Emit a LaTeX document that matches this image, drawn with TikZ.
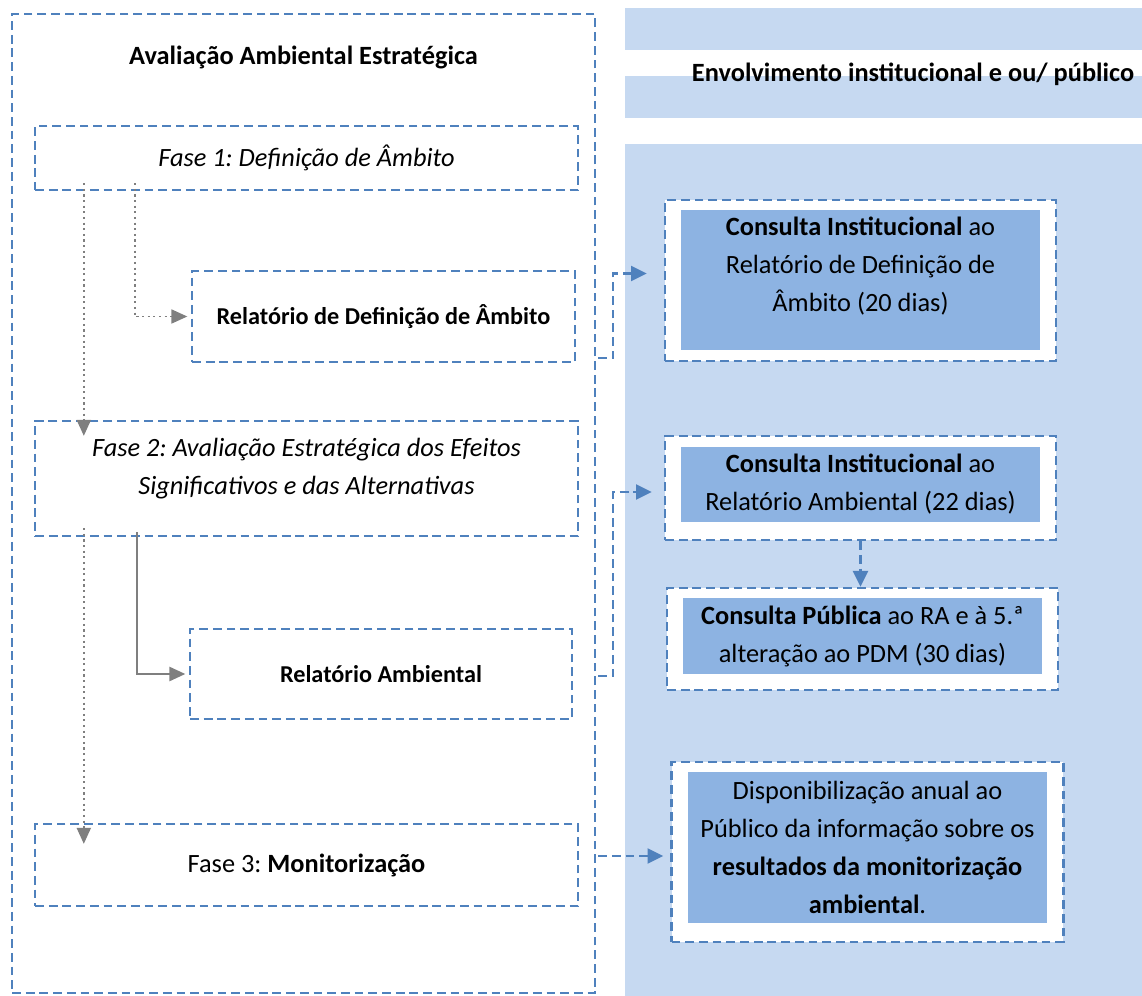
\documentclass[tikz,border=0pt]{standalone}
\usepackage{fontspec}
\setmainfont{Carlito}
\usetikzlibrary{positioning,arrows.meta,calc}
\definecolor{dashblue}{HTML}{4F81BD}
\definecolor{panelblue}{HTML}{C6D9F1}
\definecolor{boxblue}{HTML}{8DB3E2}
\definecolor{arrowgray}{HTML}{7F7F7F}
\newcommand{\boxfont}{\fontsize{15}{21.6}\selectfont}
\newcommand{\smallboxfont}{\fontsize{13.8}{19}\selectfont}
\frenchspacing
\tikzstyle{phase} = [draw=dashblue, line width=1.4pt, dash pattern=on 5pt off 2.8pt, fill=white, align=center]
\tikzstyle{consult} = [phase, minimum width=7.82cm]
\tikzstyle{inbox} = [fill=boxblue, minimum width=7.18cm, align=center]
\tikzstyle{grayarrow} = [arrowgray, line width=1.2pt, -{Triangle[length=9pt,width=8pt]}]
\tikzstyle{bluearrow} = [dashblue, line width=1.4pt, dash pattern=on 5pt off 2.8pt, -{Triangle[length=9pt,width=8.5pt]}]

\begin{document}
\begin{tikzpicture}[x=0.02cm, y=-0.02cm, font=\boxfont]
	\useasboundingbox (0,0) rectangle (1142,996);
	% right column bands
	\fill[panelblue] (625,8) rectangle (1142,50);
	\fill[panelblue] (625,76) rectangle (1142,118);
	\fill[panelblue] (625,144) rectangle (1142,996);
	\node (envtitle) at (913,74) {\textbf{Envolvimento institucional e ou/ público}};
	% left column
	\node[phase, fill=none, minimum width=11.66cm, minimum height=19.58cm] (aae) at (303.5,503.5) {};
	\node (aaetitle) at (303.5,57) {\textbf{Avaliação Ambiental Estratégica}};
	\node[phase, minimum width=10.86cm, minimum height=1.28cm] (fase1) at (306.5,158) {\textit{Fase 1: Definição de Âmbito}};
	\node[phase, font=\smallboxfont, minimum width=7.66cm, minimum height=1.82cm] (rda) at (383.5,316.5) {\textbf{Relatório de Definição de Âmbito}};
	\node[phase, minimum width=10.86cm, minimum height=2.3cm] (fase2) at (306.5,478.5) {};
	\node[font=\boxfont\itshape, align=center] (fase2text) at (306.5,468.5) {Fase 2: Avaliação Estratégica dos Efeitos\\Significativos e das Alternativas};
	\node[phase, font=\smallboxfont, minimum width=7.64cm, minimum height=1.8cm] (ra) at (381,674) {\textbf{Relatório Ambiental}};
	\node[phase, minimum width=10.86cm, minimum height=1.64cm] (fase3) at (306.5,865) {Fase 3: \textbf{Monitorização}};
	% right column boxes
	\node[consult, minimum height=3.22cm] (ci1) at (860.5,280.5) {};
	\node[inbox, minimum height=2.8cm] (ci1in) at (860.5,280) {};
	\node[align=center] (ci1text) at (860.5,266) {\textbf{Consulta Institucional} ao\\Relatório de Definição de\\Âmbito (20 dias)};
	\node[consult, minimum height=2.08cm] (ci2) at (860.5,488) {};
	\node[inbox, minimum height=1.5cm] (ci2in) at (860.5,484.5) {\textbf{Consulta Institucional} ao\\Relatório Ambiental (22 dias)};
	\node[consult, minimum height=2.04cm] (cp) at (862.5,639) {};
	\node[inbox, minimum height=1.52cm] (cpin) at (862.5,636) {\textbf{Consulta Pública} ao RA e à 5.ª\\alteração ao PDM (30 dias)};
	\node[consult, minimum width=7.84cm, minimum height=3.6cm] (disp) at (867.5,852) {};
	\node[inbox, minimum height=3.02cm] (dispin) at (867.5,847.5) {Disponibilização anual ao\\Público da informação sobre os\\\textbf{resultados da monitorização}\\\textbf{ambiental}.};
	% phase flow
	\draw[grayarrow, dotted, line width=0.8pt] ([xshift=1cm,yshift=0.16cm]fase1.south west) -- ([xshift=1cm,yshift=-0.32cm]fase2.north west);
	\draw[grayarrow, dotted, line width=0.8pt] ([xshift=1cm,yshift=0.18cm]fase2.south west) -- ([xshift=1cm,yshift=-0.42cm]fase3.north west);
	\draw[grayarrow, dotted, line width=0.8pt] ([xshift=2.02cm,yshift=0.16cm]fase1.south west) |- ([xshift=-2pt]rda.west);
	\draw[grayarrow] ([xshift=2.06cm,yshift=0.1cm]fase2.south west) |- ([xshift=-2pt]ra.west);
	% consultations
	\draw[bluearrow] ($(rda.south -| aae.east)+(2,-5)$) -- ++(15,0) |- ($(ci1.west)+(-17,-7)$);
	\draw[bluearrow] ($(ra.east -| aae.east)+(2,2)$) -- ++(15,0) |- ($(ci2.west)+(-12,4)$);
	\draw[bluearrow] (ci2.south) -- (ci2.south |- cp.north);
	\draw[bluearrow] ($(fase3.east -| aae.east)+(2,-9)$) -- ($(disp.west)+(-7,4)$);
\end{tikzpicture}
\end{document}
